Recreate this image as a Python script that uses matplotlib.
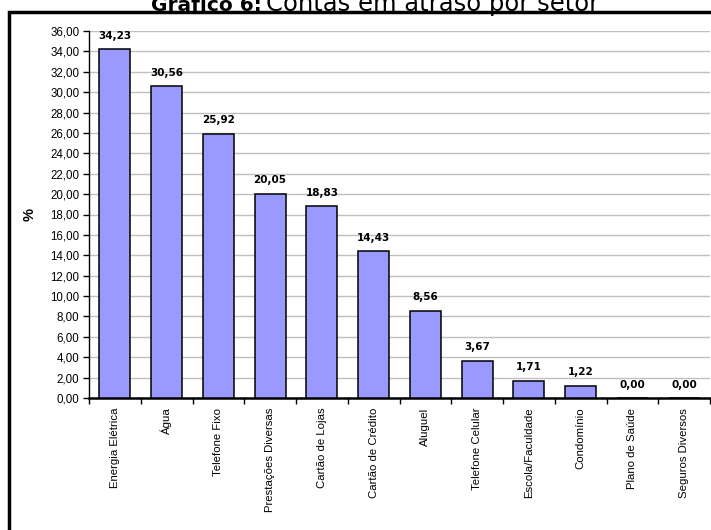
import matplotlib.pyplot as plt
import numpy as np
from matplotlib.patches import Rectangle

# contas em atraso, % por setor
setores = ["Energia Elétrica", "Água", "Telefone Fixo", "Prestações Diversas",
           "Cartão de Lojas", "Cartão de Crédito", "Aluguel", "Telefone Celular",
           "Escola/Faculdade", "Condomínio", "Plano de Saúde", "Seguros Diversos"]
percentuais = [34.23, 30.56, 25.92, 20.05, 18.83, 14.43, 8.56, 3.67, 1.71, 1.22, 0.00, 0.00]
yticks = np.arange(0, 37, 2)

plt.rcParams['font.family'] = ['Liberation Sans', 'DejaVu Sans']

fig = plt.figure(figsize=(7.11, 5.30), dpi=100)
ax = fig.add_axes([89/711, 1 - 398/530, 621/711, 367/530])

x = np.arange(len(setores))
ax.bar(x, percentuais, width=0.6, color="#9999FF", edgecolor="black", linewidth=1.1, zorder=3)

def fmt(v):
    return f"{v:.2f}".replace(".", ",")

for xi, v in zip(x, percentuais):
    ax.annotate(fmt(v), (xi, v), xytext=(0, 6), textcoords="offset points",
                ha="center", va="bottom", fontsize=7.5, fontweight="bold",
                family=["DejaVu Sans"])

ax.set_xlim(-0.5, len(setores) - 0.5)
ax.set_ylim(0, 36)
ax.set_yticks(yticks)
ax.set_yticklabels([fmt(t) for t in yticks], fontsize=8.3)
ax.yaxis.grid(True, color="#c0c0c0", linewidth=1, zorder=0)

ax.set_xticks(x)
ax.set_xticklabels(setores, rotation=90, fontsize=8.2, va="top")
ax.set_xticks(np.arange(-0.5, len(setores)), minor=True)
ax.tick_params(axis="x", which="major", length=0, pad=7)
ax.tick_params(axis="x", which="minor", length=4, direction="out", width=1)
ax.tick_params(axis="y", length=4, direction="out", width=1, pad=3)

for s in ("top", "right"):
    ax.spines[s].set_visible(False)
ax.spines["bottom"].set_linewidth(1.8)
ax.spines["left"].set_linewidth(1)

ax.set_ylabel("%", fontsize=10.5, fontweight="bold")
ax.yaxis.set_label_coords(-0.085, 0.5)

# moldura do gráfico
fig.patches.append(Rectangle((9/711, -0.2), 1.0, 1 - 12/530 + 0.2, fill=False,
                             edgecolor="black", linewidth=2.5,
                             transform=fig.transFigure, figure=fig))

# titulo
fig.text(262/711, 1 - 11/530, "Gráfico 6:", ha="right", va="baseline",
         fontsize=14.5, fontweight="bold", family=["DejaVu Sans"])
fig.text(266/711, 1 - 11/530, "Contas em atraso por setor", ha="left", va="baseline",
         fontsize=17.5, family=["DejaVu Sans"])

fig.savefig("out.png", dpi=100)
